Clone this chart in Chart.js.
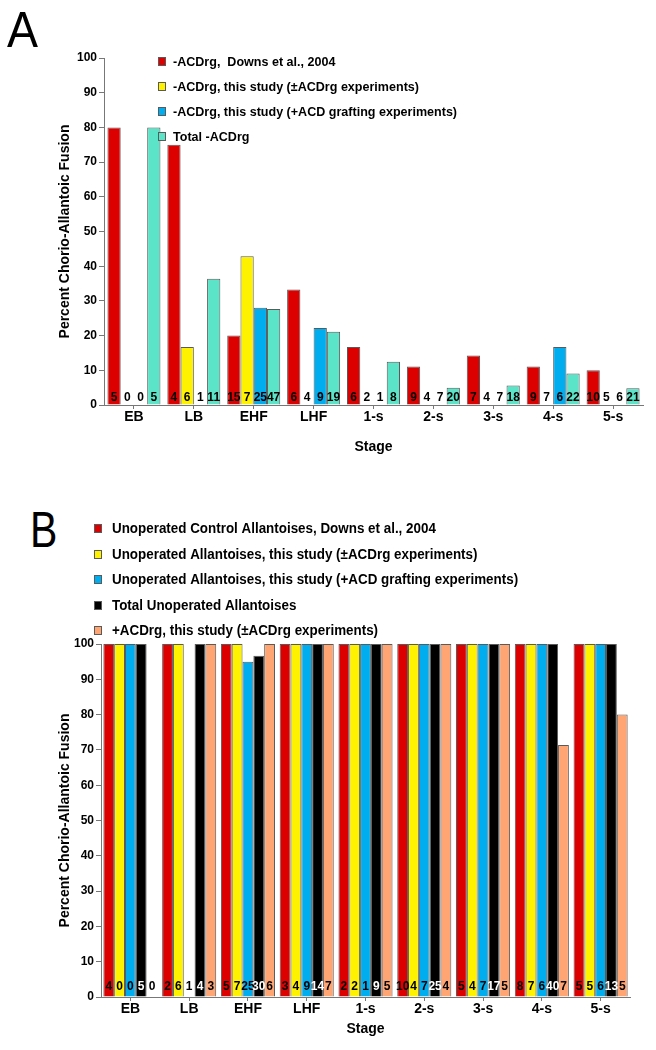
<!DOCTYPE html>
<html>
<head>
<meta charset="utf-8">
<script src="https://cdn.jsdelivr.net/npm/chart.js@4.4.1/dist/chart.umd.min.js"></script>
<style>
  html, body { margin: 0; padding: 0; background: #fff; }
  body { width: 656px; height: 1050px; position: relative; overflow: hidden; }
  canvas { position: absolute; left: 0; }
  #chartA { top: 0; }
  #chartB { top: 500px; }
  .letter { position: absolute; font: 50px "Liberation Sans", Arial, sans-serif; color: #000; line-height: 1.15; transform-origin: left top; }
</style>
</head>
<body>
<div class="letter" style="left:7px; top:2px; transform:scaleX(0.93)">A</div>
<div class="letter" style="left:30px; top:502px; transform:scaleX(0.82)">B</div>
<canvas id="chartA" width="656" height="460"></canvas>
<canvas id="chartB" width="656" height="540"></canvas>
<script>
// ── Data ───────────────────────────────────────────────────────────────────
const stages = ["EB", "LB", "EHF", "LHF", "1-s", "2-s", "3-s", "4-s", "5-s"];

// Panel A: percent fusion, -ACDrg
const downsA = [80, 75, 20, 33.3, 16.7, 11.1, 14.3, 11.1, 10];
const studyA = [0, 16.7, 42.9, 0, 0, 0, 0, 0, 0];
const graftA = [0, 0, 28, 22.2, 0, 0, 0, 16.7, 0];
const totalA = [80, 36.4, 27.7, 21.1, 12.5, 5, 5.6, 9.1, 4.8];
// embryo counts printed at the base of each bar
const nDownsA = [5, 4, 15, 6, 6, 9, 7, 9, 10];
const nStudyA = [0, 6, 7, 4, 2, 4, 4, 7, 5];
const nGraftA = [0, 1, 25, 9, 1, 7, 7, 6, 6];
const nTotalA = [5, 11, 47, 19, 8, 20, 18, 22, 21];

// Panel B: percent fusion, unoperated / +ACDrg
const downsB = [100, 100, 100, 100, 100, 100, 100, 100, 100];
const studyB = [100, 100, 100, 100, 100, 100, 100, 100, 100];
const graftB = [100, 0, 95, 100, 100, 100, 100, 100, 100];
const totalB = [100, 100, 96.7, 100, 100, 100, 100, 100, 100];
const acdB   = [0, 100, 100, 100, 100, 100, 100, 71.4, 80];
const nDownsB = [4, 2, 5, 3, 2, 10, 5, 8, 5];
const nStudyB = [0, 6, 7, 4, 2, 4, 4, 7, 5];
const nGraftB = [0, 1, 25, 9, 1, 7, 7, 6, 6];
const nTotalB = [5, 4, 30, 14, 9, 25, 17, 40, 13];
const nAcdB   = [0, 3, 6, 7, 5, 4, 5, 7, 5];

// ── Style ──────────────────────────────────────────────────────────────────
const C = {
  red:    "#dd0000",
  yellow: "#fff200",
  blue:   "#00aeef",
  teal:   "#5ce4c8",
  black:  "#000000",
  salmon: "#ffa574",
  edge:   "#5a5a5a",
  axis:   "#777777",
};
const SANS = "'Liberation Sans', Arial, Helvetica, sans-serif";
Chart.defaults.font.family = SANS;
Chart.defaults.color = "#000";

// counts at the foot of every bar
const countLabels = {
  id: "countLabels",
  afterDatasetsDraw(chart, args, opts) {
    const { ctx, chartArea } = chart;
    ctx.save();
    ctx.font = "bold 12px " + SANS;
    ctx.textAlign = "center";
    ctx.textBaseline = "alphabetic";
    chart.data.datasets.forEach((ds, i) => {
      chart.getDatasetMeta(i).data.forEach((bar, j) => {
        ctx.fillStyle = ds.data[j] > 0 && ds.countColor ? ds.countColor : "#000";
        ctx.fillText(String(ds.counts[j]), bar.x, chartArea.bottom - opts.lift);
      });
    });
    ctx.restore();
  },
};

// legend with small boxes at a fixed spot; text squeezed like a narrow face
const boxLegend = {
  id: "boxLegend",
  afterDraw(chart, args, opts) {
    const { ctx } = chart;
    chart.data.datasets.forEach((ds, i) => {
      const y = Math.round(opts.y + i * opts.gap);
      ctx.save();
      ctx.fillStyle = ds.backgroundColor;
      ctx.fillRect(opts.x, y - 4, 8, 9);
      ctx.strokeStyle = C.edge;
      ctx.lineWidth = 1;
      ctx.strokeRect(opts.x + 0.5, y - 3.5, 7, 8);
      ctx.font = opts.font;
      ctx.textBaseline = "middle";
      ctx.textAlign = "left";
      ctx.fillStyle = "#000";
      ctx.translate(opts.x + opts.indent, y + 1);
      ctx.scale(opts.squeeze, 1);
      ctx.fillText(ds.label, 0, 0);
      ctx.restore();
    });
  },
};

function bars(label, data, counts, color, extra = {}) {
  return {
    label, data, counts,
    backgroundColor: color,
    borderColor: C.edge,
    borderWidth: (c) => (c.raw > 0 ? 1 : 0),
    barPercentage: 1,
    ...extra,
  };
}

function axes(yWidth, xHeight, stageBottom) {
  return {
    x: {
      offset: true,
      ticks: { color: "#000", font: { size: 14, weight: "bold" }, padding: 0 },
      grid: { offset: false, drawOnChartArea: false, tickLength: 4, color: C.axis },
      border: { display: true, color: C.axis },
      title: {
        display: true, text: "Stage", color: "#000",
        font: { size: 14, weight: "bold" }, padding: { top: 0, bottom: stageBottom },
      },
      afterFit: (s) => { s.height = xHeight; },
    },
    y: {
      min: 0, max: 100,
      ticks: { stepSize: 10, color: "#000", font: { size: 12, weight: "bold" }, padding: 2 },
      grid: { drawOnChartArea: false, tickLength: 5, color: C.axis },
      border: { display: true, color: C.axis },
      title: {
        display: true, text: "Percent Chorio-Allantoic Fusion", color: "#000",
        font: { size: 14, weight: "bold" }, padding: { top: 57, bottom: 0 },
      },
      afterFit: (s) => { s.width = yWidth; },
    },
  };
}

const common = {
  responsive: false,
  animation: false,
  events: [],
};

// ── Panel A ────────────────────────────────────────────────────────────────
new Chart(document.getElementById("chartA"), {
  type: "bar",
  data: {
    labels: stages,
    datasets: [
      bars("-ACDrg,  Downs et al., 2004", downsA, nDownsA, C.red, { categoryPercentage: 0.885 }),
      bars("-ACDrg, this study (\u00b1ACDrg experiments)", studyA, nStudyA, C.yellow, { categoryPercentage: 0.885 }),
      bars("-ACDrg, this study (+ACD grafting experiments)", graftA, nGraftA, C.blue, { categoryPercentage: 0.885 }),
      bars("Total -ACDrg", totalA, nTotalA, C.teal, { categoryPercentage: 0.885 }),
    ],
  },
  options: {
    ...common,
    layout: { padding: { top: 58, right: 13, left: 0, bottom: 0 } },
    scales: axes(104, 55, 4),
    plugins: {
      legend: { display: false },
      tooltip: { enabled: false },
      countLabels: { lift: 4.5 },
      boxLegend: { x: 158, y: 61, gap: 25, indent: 15, squeeze: 0.965, font: "bold 13px " + SANS },
    },
  },
  plugins: [countLabels, boxLegend],
});

// ── Panel B ────────────────────────────────────────────────────────────────
new Chart(document.getElementById("chartB"), {
  type: "bar",
  data: {
    labels: stages,
    datasets: [
      bars("Unoperated Control Allantoises, Downs et al., 2004", downsB, nDownsB, C.red, { categoryPercentage: 0.92 }),
      bars("Unoperated Allantoises, this study (\u00b1ACDrg experiments)", studyB, nStudyB, C.yellow, { categoryPercentage: 0.92 }),
      bars("Unoperated Allantoises, this study (+ACD grafting experiments)", graftB, nGraftB, C.blue, { categoryPercentage: 0.92 }),
      bars("Total Unoperated Allantoises", totalB, nTotalB, C.black, { categoryPercentage: 0.92, countColor: "#fff" }),
      bars("+ACDrg, this study (\u00b1ACDrg experiments)", acdB, nAcdB, C.salmon, { categoryPercentage: 0.92 }),
    ],
  },
  options: {
    ...common,
    layout: { padding: { top: 144, right: 26, left: 0, bottom: 0 } },
    scales: axes(101, 43, 2.6),
    plugins: {
      legend: { display: false },
      tooltip: { enabled: false },
      countLabels: { lift: 7 },
      boxLegend: { x: 94, y: 28, gap: 25.5, indent: 18, squeeze: 0.957, font: "bold 14px " + SANS },
    },
  },
  plugins: [countLabels, boxLegend],
});
</script>
</body>
</html>
